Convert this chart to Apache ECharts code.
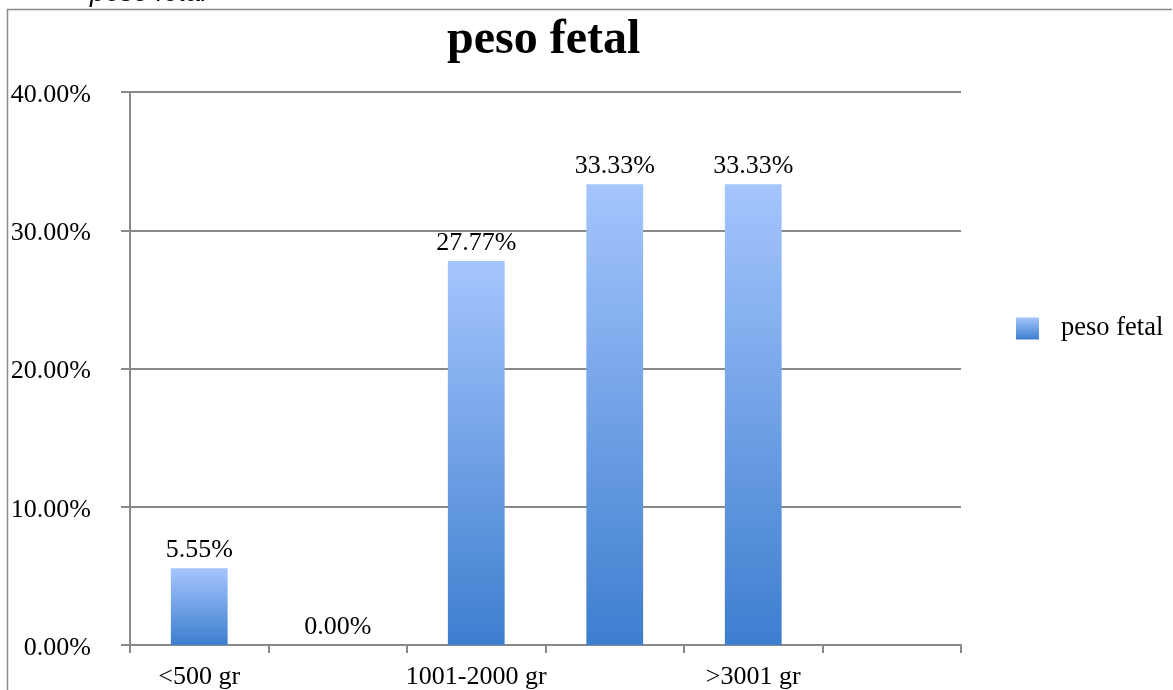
<!DOCTYPE html>
<html>
<head>
<meta charset="utf-8">
<script src="https://cdn.jsdelivr.net/npm/echarts@6/dist/echarts.min.js"></script>
<style>
  html, body { margin: 0; padding: 0; background: #fff; }
  #chart { width: 1173px; height: 690px; }
</style>
</head>
<body>
<div id="chart"></div>
<script>
// Weight classes and the share of cases in each (percent)
const categories = ['<500 gr', '501-1000 gr', '1001-2000 gr', '2001-3000 gr', '>3001 gr', ''];
const pesoFetal = [5.55, 0.00, 27.77, 33.33, 33.33, null];
const yTicks = [0, 10, 20, 30, 40];
const seriesName = 'peso fetal';
const chartTitle = 'peso fetal';
const captionText = 'peso fetal';

const serif = '"Liberation Serif", "Times New Roman", serif';
const gridGray = '#898989';

const chart = echarts.init(document.getElementById('chart'), null, { renderer: 'canvas' });

const barFill = new echarts.graphic.LinearGradient(0, 0, 0, 1, [
  { offset: 0, color: '#a5c5fd' },
  { offset: 1, color: '#3d7ecf' }
]);

chart.setOption({
  animation: false,
  backgroundColor: '#ffffff',
  title: {
    text: chartTitle,
    left: 447,
    top: 17,
    padding: 0,
    textStyle: { fontFamily: serif, fontWeight: 'bold', fontSize: 48, color: '#000' }
  },
  legend: {
    left: 1016,
    top: 315,
    padding: 0,
    itemWidth: 23,
    itemHeight: 22,
    icon: 'rect',
    data: [{ name: seriesName, itemStyle: { color: barFill } }],
    textStyle: { fontFamily: serif, fontSize: 26.5, color: '#000', padding: [0, 0, 0, 17] }
  },
  grid: { left: 130, right: 212, top: 92, bottom: 44, containLabel: false },
  xAxis: {
    type: 'category',
    data: categories,
    boundaryGap: true,
    axisLine: { lineStyle: { color: gridGray, width: 2 } },
    axisTick: { show: true, length: 8, alignWithLabel: false, interval: 0, lineStyle: { color: gridGray, width: 2 } },
    axisLabel: { interval: 1, margin: 19, fontFamily: serif, fontSize: 26, color: '#000' }
  },
  yAxis: {
    type: 'value',
    min: yTicks[0],
    max: yTicks[yTicks.length - 1],
    interval: yTicks[1] - yTicks[0],
    axisLine: { show: true, lineStyle: { color: gridGray, width: 2 } },
    axisTick: { show: true, length: 9, lineStyle: { color: gridGray, width: 2 } },
    splitLine: { show: true, lineStyle: { color: gridGray, width: 2 } },
    axisLabel: {
      margin: 39,
      verticalAlign: 'top',
      lineHeight: 6,
      fontFamily: serif,
      fontSize: 26,
      color: '#000',
      formatter: v => v.toFixed(2) + '%'
    }
  },
  series: [{
    name: seriesName,
    type: 'bar',
    data: pesoFetal,
    barWidth: '41%',
    itemStyle: { color: barFill },
    label: {
      show: true,
      position: 'top',
      distance: 5,
      fontFamily: serif,
      fontSize: 26,
      color: '#000',
      formatter: p => p.value == null ? '' : p.value.toFixed(2) + '%'
    }
  }],
  graphic: [
    {
      type: 'text',
      left: 90,
      top: -20,
      style: { text: captionText, font: 'italic 27px "Liberation Sans", Arial, sans-serif', fill: '#000' }
    },
    {
      type: 'polyline',
      shape: { points: [[7.5, 690], [7.5, 9.5], [1172, 9.5]] },
      style: { stroke: '#8a8a8a', lineWidth: 1.5, fill: null }
    }
  ]
});
</script>
</body>
</html>
